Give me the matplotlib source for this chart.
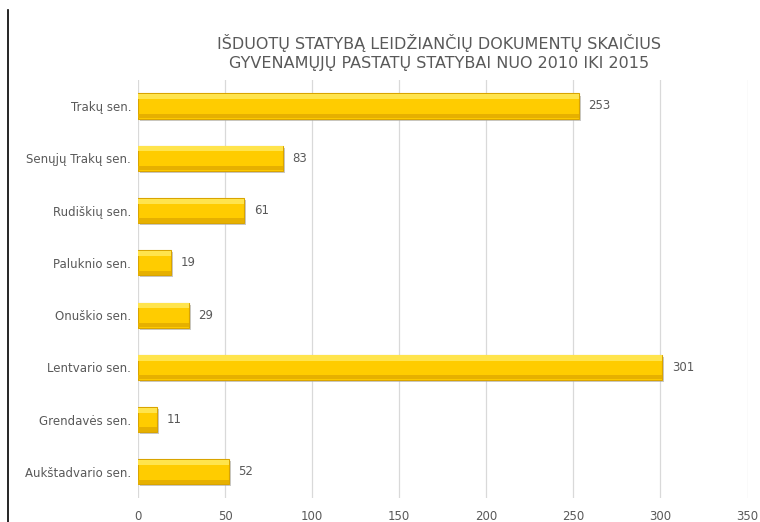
import matplotlib; matplotlib.use("Agg")
import matplotlib.pyplot as plt
from matplotlib.lines import Line2D

# data, top to bottom as in the chart
categories = ["Trakų sen.", "Senųjų Trakų sen.", "Rudiškių sen.", "Paluknio sen.",
              "Onuškio sen.", "Lentvario sen.", "Grendavės sen.", "Aukštadvario sen."]
values = [253, 83, 61, 19, 29, 301, 11, 52]
xticks = [0, 50, 100, 150, 200, 250, 300, 350]
title = "IŠDUOTŲ STATYBĄ LEIDŽIANČIŲ DOKUMENTŲ SKAIČIUS\nGYVENAMŲJŲ PASTATŲ STATYBAI NUO 2010 IKI 2015"

plt.rcParams["font.family"] = ["DejaVu Sans"]
GRAY = "#595959"

fig = plt.figure(figsize=(7.6, 5.22), dpi=100)
ax = fig.add_axes([0.1816, 0.046, 0.802, 0.801])

n = len(categories)
ypos = [n - 1 - i for i in range(n)]
h = 0.48

# shadow, body, highlight
ax.barh([y - 0.04 for y in ypos], values, height=h, left=[1.2] * n, color="#A6A6A6", alpha=0.6, zorder=2)
ax.barh(ypos, values, height=h, color="#FFCC00", edgecolor="#D9A400", linewidth=0.8, zorder=3)
ax.barh([y + h / 2 - 0.06 for y in ypos], values, height=0.1, color="#FFE44D", zorder=4, linewidth=0)
ax.barh([y - h / 2 + 0.05 for y in ypos], values, height=0.08, color="#E6B000", zorder=4, linewidth=0)

for y, v in zip(ypos, values):
    ax.text(v + 5.5, y, str(v), va="center", ha="left", fontsize=8.5, color=GRAY)

ax.set_xlim(0, 350)
ax.set_ylim(-0.5, n - 0.5)
ax.set_xticks(xticks)
ax.set_xticklabels([str(t) for t in xticks], fontsize=8.5, color=GRAY)
ax.set_yticks(ypos)
ax.set_yticklabels(categories, fontsize=8.5, color=GRAY)
ax.tick_params(length=0, pad=5)
ax.tick_params(axis="x", pad=9)
ax.grid(axis="x", color="#D9D9D9", linewidth=0.9, zorder=0)
ax.set_axisbelow(True)
for s in ax.spines.values():
    s.set_visible(False)

fig.text(0.578, 0.9, title, ha="center", va="center", fontsize=11.5, color=GRAY, linespacing=1.35)
fig.add_artist(Line2D([0.011, 0.011], [0.0, 0.98], color="black", linewidth=1.2, transform=fig.transFigure))

fig.savefig("out.png", dpi=100)
